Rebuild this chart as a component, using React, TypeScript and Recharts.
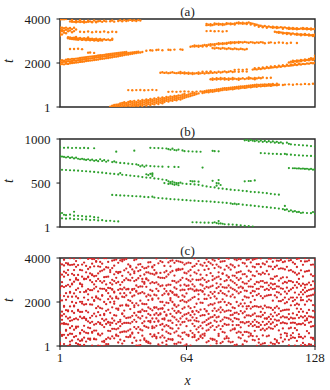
import React from 'react';
import { ScatterChart, Scatter, XAxis, YAxis, ReferenceArea } from 'recharts';

// ---------- ticks ----------
const X_TICKS = [1, 64, 128];
const T_TICKS_A = [1, 2000, 4000];
const T_TICKS_B = [1, 500, 1000];
const T_TICKS_C = [1, 2000, 4000];

// ---------- panel (a): rows are [site x, ...times t] ----------
const aTop: number[][] = [
  [1,3980],[2,3990],[3,3985],[4,3995],[6,3890],[7,3960,3870],[8,3870],[9,3910,3850],[10,3880],[11,3940,3860],[12,3870],[13,3900,3840],[14,3860],[15,3920,3870],[16,3890],[17,3870,3850],[18,3930],[19,3880,3850],[20,3900],[21,3910],[22,3870],[23,3920],[24,3890],[26,3900],[27,3930],[28,3880],[30,3910],[31,3940],[32,3900],[33,3950],[34,3910],[35,3930],[36,3960],[37,3920],[38,3940],[39,3910],[40,3950],[41,3930],
];
const aLeft: number[][] = [
  [1,3620,3520,3420,3330,3250],[2,3600,3500,3440,3300],[3,3580,3470,3380],[4,3610,3510,3350],[5,3560,3440],[6,3590,3480],[7,3540,3400],[8,3600,3450],[9,3520],[11,3420],[13,3410],[15,3430],[17,3400],[19,3420],[21,3410],[23,3430],[25,3400],[27,3420],[29,3410],
];
const aUpper: number[][] = [
  [5,3170,3120],[6,3160,3100],[7,3140,3090],[8,3150,3080],[9,3130,3070,3180],[10,3120,3060],[11,3140,3080],[12,3110,3050],[13,3130,3070],[14,3100,3040],[15,3120,3060,3160],[16,3090,3030],[17,3110,3050],[18,3080,3020],[19,3100,3040],[20,3070,3010],[21,3090,3030],[22,3060,3020],[23,3080],[24,3050],[25,3070],[26,3040],[27,3060,3100],
];
const aSparse: number[][] = [
  [6,2640],[8,2640],[10,2650],[12,2630],[15,2470],[16,2480],[18,2460],[44,2560],[46,2580],[47,2570],[49,2590],[50,2600],[52,2580],[55,2600],[56,2590],[58,2610],[61,2620],[62,2600],
  [35,770],[37,760],[39,770],[41,775],[43,760],[45,770],[47,780],[49,770],[55,690],[57,700],[59,690],[61,700],[63,710],[65,700],[67,690],[69,700],[71,710],
  [74,3450],[76,3460],[78,3440],[80,3450],[82,3430],[84,3450],[88,1690],[90,1700],[92,1690],[94,1710],
];
const aMain: number[][] = [
  [1,1930,2020,2110],[2,1950,2040,2130],[3,1940,2060,2100],[4,1970,2050,2150],[5,1960,2080,2170],[6,1990,2070,2160],[7,2000,2090,2190],[8,2010,2110,2180],[9,2020,2100,2200],[10,2030,2130,2210],
  [11,2050,2140,2230],[12,2060,2150,2240],[13,2070,2170,2250],[14,2090,2180,2260],[15,2100,2190,2280],[16,2110,2200,2290],[17,2120,2220,2300],[18,2140,2230,2310],[19,2150,2250,2320],[20,2160,2260,2340],
  [21,2180,2270,2350],[22,2190,2280,2360],[23,2200,2300,2370],[24,2220,2310,2390],[25,2230,2320,2400],[26,2250,2340,2410],[27,2260,2350,2420],[28,2280,2360,2430],[29,2290,2380,2450],[30,2310,2390,2460],
  [31,2330,2400,2470],[32,2340,2420,2480],[33,2360,2430,2490],[34,2380,2440,2500],[35,2390,2460],[36,2410,2470],[37,2420,2480],[38,2440,2490],[39,2450,2500],[40,2470,2510],[41,2480],[42,2500],
];
const aBottom: number[][] = [
  [26,20],[27,30,60],[28,40,90],[29,30,100],[30,50,120],[31,20,90,160],[32,40,120,190],[33,60,150,220],[34,30,100,180],[35,70,140,230],
  [36,20,110,200,260],[37,60,150,240],[38,30,100,190,280],[39,70,140,230],[40,40,120,210,300],[41,90,170,260],[42,50,140,230,320],[43,110,200,290],[44,70,170,260,340],[45,130,220,310],
  [46,90,190,280,370],[47,150,250,330],[48,120,210,300,390],[49,180,270,360],[50,140,240,330,420],[51,200,290,380],[52,170,260,350,440],[53,230,310,400],[54,280,370,460],[55,250,340,430],
  [56,300,390,480],[57,280,370,460],[58,330,420,500],[59,310,400,490],[60,360,440,530],[61,340,430,520],[62,390,470,560],[63,420,500,590],[64,450,540],[65,480,570],
  [66,500,600],[67,530,620],[68,560,640],[69,590],[70,620],
];
const aLow: number[][] = [
  [72,640,700],[73,660,720],[74,680,740],[75,670,750],[76,700,760],[77,690,770],[78,720,780],[79,740,800],[80,730,810],[81,760,820],[82,770,840],[83,790,850],[84,780,860],[85,800,870],
  [86,820,880],[87,810,890],[88,830,900],[89,850,910],[90,840,920],[91,860,930],[92,880,940],[93,870,950],[94,890,960],[95,910,970],[96,900,980],[97,920,990],[98,930,1000],[99,920,1010],
  [100,950,1000],[101,940,1020],[102,960,1010],[103,950,1030],[104,970,1020],[105,980,1040],[106,960,1030],[107,990,1050],[108,1000],[109,990,1060],[110,1010],[112,1000],[113,1020],[115,1030],
  [117,1010],[119,1040],[121,1030],[123,1050],[125,1040],[127,1060],
];
const aBand1560: number[][] = [
  [51,1560],[52,1580],[53,1550],[54,1570],[55,1540],[56,1560],[57,1580],[58,1550],[59,1540],[60,1560],[61,1530,1590],[62,1550],[63,1570,1520],[64,1540],[65,1560,1510],[66,1530],[67,1550,1500],
  [68,1520],[69,1540],[70,1510,1570],[71,1530],[72,1550,1600],[73,1520],[74,1560,1610],[75,1540],[76,1570,1620],[77,1550],[78,1580],[79,1560],[80,1600],[81,1570],[82,1590],[83,1620],[84,1580],
  [85,1600],[86,1630],[87,1590],[88,1610],[90,1600],[92,1620],[94,1610],
];
const aBand1280: number[][] = [
  [76,1260],[77,1240,1300],[78,1270],[79,1250,1310],[80,1280],[81,1260,1320],[82,1290],[83,1250,1310],[84,1270],[85,1300,1240],[86,1280],[87,1260,1320],[88,1290],[89,1270],[90,1300,1240],
  [91,1280],[92,1310],[93,1270],[94,1300],[95,1280,1340],[96,1310],[97,1290],[98,1320,1260],[99,1300],[100,1330],[101,1310],[102,1340],[104,1320],[106,1330],
];
const aRise: number[][] = [
  [97,1700],[98,1720,1760],[99,1710],[100,1740,1780],[101,1730],[102,1760,1800],[103,1750],[104,1780,1820],[105,1770],[106,1790,1840],[107,1800],[108,1820,1860],[109,1810],[110,1840,1880],
  [111,1830],[112,1860,1900],[113,1850],[114,1880,1920],[115,1870,2020],[116,1890,1940,2060],[117,1900,2040,2100],[118,1920,1960,2080],[119,1910,2060,2120],[120,1940,1980,2100],[121,1930,2140,2080],
  [122,1960,2120],[123,1950,2160,2100],[124,1980,2140],[125,1970,2180,2120],[126,2000,2160,2220],[127,1990,2200,2140],[128,2010,2240,2180,2330],
];
const aBand2900: number[][] = [
  [66,2740],[67,2760],[68,2750,2800],[69,2770],[70,2790,2740],[71,2780],[72,2800,2750],[73,2820],[74,2810,2760],[75,2830],[76,2850,2790],[77,2840,2680],[78,2860,2800,2660],[79,2870,2690],
  [80,2850,2900,2670],[81,2880,2650],[82,2900,2860,2680],[83,2890,2660],[84,2910,2870,2640],[85,2920,2670],[86,2900,2950,2650],[87,2930,2630],[88,2950,2910,2660],[89,2940,2640],[90,2960,2920,2620],
  [91,2950,2650],[92,2930,2630],[93,2960,2610],[94,2940,2640],[95,2920],[96,2950],[97,2930],[98,2910],[99,2940],[100,2920],[101,2950],[102,2930],[103,2900],[105,2920],[106,2940],[108,2910],
  [110,2930],[112,2920],[114,2900],[116,2920],[119,2910],
];
const aTopRight: number[][] = [
  [74,3720,3780],[75,3740],[76,3760,3710],[77,3730],[78,3750,3800],[79,3770],[80,3740,3790],[81,3760],[82,3780,3730],[83,3750],[84,3770,3810],[85,3790],[86,3760,3800],[87,3780],[88,3800,3750],
  [89,3820],[90,3790,3840],[91,3810],[92,3780,3830],[93,3800],[94,3820,3770],[95,3840],[96,3810,3750],[97,3790],[98,3760,3700],[99,3740],[100,3710,3650],[101,3690],[102,3660,3620],[103,3680],
  [104,3640,3600],[105,3660],[106,3630],[107,3650,3600],[108,3620,3420],[109,3640,3590,3400],[110,3610,3410,3370],[111,3630,3390],[112,3600,3560,3380,3340],[113,3620,3360],[114,3580,3370,3320],
  [115,3600,3550,3350],[116,3570,3330,3290],[117,3590,3540,3340],[118,3560,3310],[119,3580,3530,3330,3280],[120,3550,3300],[121,3570,3310,3260],[122,3540,3590,3290],[123,3560,3270,3320],
  [124,3530,3580,3280],[125,3550,3300,3250],[126,3570,3520,3260],[127,3540,3280,3230],[128,3560,3250,3300],
];

// ---------- panel (b): rows are [site x, ...times t] ----------
const bTop: number[][] = [
  [1,905],[3,900],[5,902],[7,898],[9,900],[11,897],[13,899],[15,896],[18,895],
  [29,856],[38,867],[46,900],[48,898],[50,897],[52,895],[54,892],[55,885],[56,878],[57,890],[58,875],[59,872],[60,880],[62,870],[63,862],[65,860],[67,858],[69,856],[71,855],[77,866],[78,862],[80,860],
];
const bLine1: number[][] = [
  [1,805],[2,800],[3,796],[4,790],[5,798],[6,785],[7,792],[8,780],[9,788],[10,776],[11,770],[12,775],[13,768],[14,762],[15,770],[16,758],[17,765],[18,752],[19,760],[20,748],[21,770],[22,750],
  [23,760],[24,742],[25,755],[27,738],[28,745],[29,735],[31,728],[33,725],[35,720],[37,715],[39,712],[40,705],[41,690],[42,700],[43,685],[44,698],[46,693],[48,690],[50,688],[52,686],[55,684],
  [58,683],[60,682],[72,676],[31,613],[45,590],[47,610,600],
];
const bLine2: number[][] = [
  [2,650],[4,648],[6,645],[8,643],[10,640],[12,637],[14,634],[16,630],[18,626],[20,622],[22,618],[24,612],[26,608],[28,603],[30,598],[32,594],[34,590],[36,585],[38,580],[40,575],[42,568],
  [44,562,600],[46,560,605],[47,580],[48,552],[50,548],[52,540],[53,500],[54,534],[55,520,490],[56,510,495],[57,515,488],[58,505,480],[59,500,485],[60,498,475],[61,505],[62,495],[64,490],[66,488,523],
  [67,518],[68,484,520],[70,480,515],[72,470],[74,462],[76,455],[77,525],[78,450],[79,500,470],[80,440,534,496],[81,478],[82,436],[84,430],[86,425],[88,420],[90,418],[92,412],[93,520],[94,408],
  [95,523],[96,400,523],[98,398,530],[100,395],[102,390],[104,385],[106,378],[108,372],[110,368],
];
const bLine3: number[][] = [
  [27,365],[29,362],[31,360],[33,358],[35,356],[37,352],[39,350],[41,348],[43,342],[45,340],[47,345],[48,336],[50,330],[52,326],[54,322],[56,318],[58,315],[60,312],[62,308],[64,305],[66,302],
  [68,300],[70,296],[72,294],[74,292],[76,290],[78,286],[80,282],[82,278],[84,274],[86,270],[87,262],[88,266],[89,258],[90,262],[92,255],[94,250],[96,246],[98,240],[100,236],[102,230],[104,226],
  [106,220],[108,216],[110,210],[112,205],[113,195,240],[114,200],[115,180],[116,190],[117,175],[118,182],[119,170],[120,172],[121,160],[122,165],[124,160],[126,158],[127,170],[128,150],
];
const bBottom: number[][] = [
  [1,150],[2,160,100],[3,140],[4,135,95],[6,142,98],[8,130,174,90],[10,128,92],[12,125,85],[14,118,88],[16,122,80],[18,112,82],[20,108,76],[22,78],[24,70],[26,72],[28,66],[30,64],
  [67,55],[69,54],[71,52],[73,50],[75,50],[77,48],[78,55],[79,45],[80,40,68],[81,42],[82,38],[83,32],[85,30],[87,28],[89,25],[91,20],[93,15],[95,10],[97,5],
];
const bRight: number[][] = [
  [93,985],[94,990],[95,978],[96,988],[97,980],[98,975],[99,985],[100,970],[101,982,840],[102,968],[103,978,838],[104,965],[105,975,835],[106,962],[107,972,832],[108,958],[109,968,830],
  [110,955],[111,962,828],[112,950],[113,830],[114,958,825],[115,945,670],[116,940,822],[117,668],[118,935,818,668],[119,665],[120,932,815,666],[121,662],[122,928,812,664],[123,660],
  [124,925,810,662],[125,655],[126,920,808,660],[127,652],[128,915,805,655],
];

// ---------- panel (c): index = site x - 1, values = times t ----------
const cCols: number[][] = [
  [70,140,610,980,1320,1410,2050,2620,2680,3140,3560,3760,2300,3300],
  [460,500,1020,1190,1560,2070,2720,3240,3710,1380,2900],
  [90,510,1000,1040,1780,1820,2270,2680,3380,3660,3920,1450,3150],
  [370,690,730,1340,1630,2100,2730,3320,3770,1000,2400],
  [0,500,980,1580,1620,2240,2780,3230,3700,3760,1250,3450],
  [60,200,560,1140,1300,1800,2420,2460,3010,3680,3990,820,2700],
  [250,900,1170,1580,2240,2800,2840,3280,3690,550,2000],
  [410,740,1220,1800,1830,2390,2920,3220,3710,3980,1500,3450],
  [130,820,880,1250,1960,2550,3020,3080,3600,3860,450,2250],
  [80,300,880,1600,1640,2170,2620,3230,3680,1200,3000],
  [50,560,600,1330,1550,2010,2820,2850,3460,3990,230,2450],
  [250,300,720,1260,1930,2010,2710,2790,3440,3700,1550,3150],
  [50,380,920,1270,1310,1880,2450,3030,3060,3790,650,2200],
  [200,600,1180,1230,1900,2470,2520,3050,3640,1600,3350],
  [330,840,1120,1530,2100,2590,3120,3150,3500,3960,580,2350],
  [280,340,810,1280,1890,2540,2990,3580,3990,1050,3300],
  [20,600,640,1370,1880,2200,2540,3220,3260,3740,3950,1100,2900],
  [310,330,970,1470,2050,2080,2610,3170,3620,3950,700,2800],
  [300,700,1010,1720,2200,2260,2690,3190,3830,3860,1350,2950],
  [20,520,560,1090,1540,2160,2480,3050,3620,3980,1800,3300],
  [0,480,1000,1050,1730,2110,2610,2950,3390,3820,1400,3600],
  [200,560,1230,1700,2280,2310,2880,3430,3740,950,2600],
  [10,180,230,860,1410,1460,2000,2950,3130,3480,3990,1150,2600],
  [90,310,1000,1210,1900,2510,2540,3140,3580,3990,1600,2800],
  [80,690,1060,1100,1650,2130,2640,3150,3560,3820,380,2400],
  [330,950,1060,1510,1990,2630,2870,3360,3450,680,2250],
  [440,780,1250,1760,2160,2560,2590,3010,3540,3880,1050,2800],
  [350,780,1400,1920,2020,2430,2470,3260,3650,3900,1150,2950],
  [470,520,1010,1380,1700,2180,2240,2860,3370,3930,760,3100],
  [160,450,1090,1640,1700,2150,2910,3310,3360,3780,800,2550],
  [290,620,1110,1190,1830,2390,2780,3360,3370,3890,900,2600],
  [110,640,1010,1450,1480,2240,2570,3190,3850,3920,1850,2900],
  [230,660,1050,1610,2220,2650,2990,3440,3920,1350,2400],
  [420,650,1270,1840,1880,2570,3070,3520,3950,1050,2300],
  [400,700,1290,1830,2090,2580,2600,3000,3710,1050,3350],
  [420,480,760,1030,1680,2050,2420,2980,3590,3640,1300,3250],
  [140,560,610,1370,1960,2550,2590,3100,3480,1100,2250],
  [380,860,1190,1770,1850,2300,2950,3310,3390,3900,1500,2600],
  [20,240,780,1390,1940,2470,2510,3000,3560,3940,1100,2750],
  [20,600,860,1300,1850,2380,2680,3080,3700,1550,3400],
  [40,260,750,1540,1570,2060,2710,3190,3450,3720,1250,2400],
  [470,710,1040,1360,1920,2450,2930,3050,3600,3990,1650,2700],
  [280,350,910,1120,1590,2390,2830,2900,3530,1900,3250],
  [190,230,870,1290,1590,2250,2690,3040,3070,3550,1900,3350],
  [140,190,830,1130,1460,2090,2330,2980,3340,3610,1750,3800],
  [120,540,1080,1140,1690,2290,2850,3290,3810,1400,2550],
  [430,810,890,1620,2100,2150,2900,3280,3570,3610,1250,2500],
  [460,520,840,1420,1740,1760,2330,2860,3240,3680,1100,3450],
  [350,410,920,1490,1750,2300,2890,3300,3330,3980,1250,2600],
  [70,590,1110,1150,1670,2160,2800,3130,3760,1400,2500],
  [10,390,960,1440,1480,2010,2720,3320,3860,1700,3100],
  [150,470,740,1230,1690,1720,2310,2750,3100,3810,1000,2000],
  [380,890,1200,1260,1850,2380,2600,3090,3640,1550,3350],
  [60,230,650,1380,1420,1970,2490,3150,3410,3990,950,2750],
  [320,590,1150,1640,2340,2380,2790,3250,3800,900,1950],
  [300,820,1150,1460,2080,2170,2780,3350,3620,3870,550,2500],
  [270,310,790,1350,2000,2420,2450,2960,3410,3890,1050,1700],
  [100,610,1300,1850,1890,2330,2660,3200,3780,1600,2950],
  [100,670,950,1500,1780,2300,2340,2880,3430,3470,3870,1200,2600],
  [170,470,1120,1560,1590,2230,2930,3460,3500,3850,800,1850],
  [150,430,970,1510,2050,2530,3000,3470,3820,1250,2750],
  [310,600,1080,1690,2090,2560,3100,3500,3790,1350,2300],
  [20,620,1100,1420,2020,2240,2790,3330,3700,1750,2550],
  [70,520,1240,1450,1990,2390,2730,3300,3760,900,3050],
  [450,500,1150,1500,2060,2580,2990,3390,3790,1800,2750],
  [20,690,1170,1720,2110,2610,2940,3460,3770,1400,3200],
  [400,590,1010,1550,1580,2190,2570,3030,3600,1300,2800],
  [410,500,1170,1440,1770,2230,2710,3350,3640,3980,900,2500],
  [260,760,1130,1270,1920,2520,2560,3290,3730,1600,3000],
  [320,630,1110,1540,2130,2520,3000,3440,3860,850,2350],
  [420,470,920,1370,1970,2540,3020,3240,3700,1650,2800],
  [360,530,1060,1400,1960,2470,2490,3090,3650,800,2750],
  [470,560,1100,1680,2140,2610,3010,3460,3780,1400,2350],
  [170,700,1180,1570,1600,2140,2690,3220,3640,3940,950,2900],
  [220,740,1240,1460,1850,2300,2960,3500,3820,1000,2650],
  [0,340,850,1300,1900,2190,2700,3310,3760,1050,2450],
  [280,320,920,1320,1880,2370,2740,3180,3690,3930,1600,3000],
  [290,730,1150,1710,1940,2460,3060,3540,3880,1400,2250],
  [120,220,860,1100,1590,2150,2630,3120,3700,1300,2850],
  [460,550,930,1330,1980,2400,2690,3150,3610,3960,1650,3350],
  [130,770,1130,1530,2010,2500,3040,3560,3830,1750,2800],
  [190,640,1200,1640,2120,2680,3280,3300,3850,900,2400],
  [330,610,1000,1560,2000,2360,2950,3470,3860,1300,2650],
  [360,440,960,1280,1860,2290,2990,3210,3640,3990,1600,2650],
  [210,350,970,1620,1960,2480,3110,3140,3560,3970,1250,2750],
  [170,700,1200,1600,1900,2250,2990,3470,3710,1400,2650],
  [190,760,1120,1420,1750,2340,2930,3200,3660,950,2600],
  [40,760,800,1270,1720,2210,2860,3190,3580,3940,1500,2550],
  [60,600,1230,1520,2000,2480,2780,3330,3900,950,3100],
  [390,650,1210,1450,1830,2390,3000,3360,3650,3950,950,2650],
  [350,620,1080,1590,1920,2450,3070,3390,3940,850,2700],
  [70,500,1080,1490,2100,2620,2650,3260,3780,1800,2900],
  [240,640,1030,1560,1940,2520,2840,3270,3750,1300,2250],
  [200,640,1080,1390,1690,2210,2840,3160,3620,3920,1800,2500],
  [430,610,920,1390,1810,2200,2950,3420,3940,1100,2700],
  [480,560,1000,1360,1990,2410,3030,3370,3800,1700,2700],
  [280,450,900,1420,1780,2270,2690,3210,3610,3920,1100,2500],
  [260,690,1190,1480,1810,2480,2810,3180,3580,3950,950,2100],
  [0,440,870,1350,1800,2310,2910,3390,3720,3980,1100,2600],
  [150,310,870,1350,1770,2370,2890,3280,3720,1050,2600],
  [60,730,960,1330,1790,2270,2700,3250,3590,3980,1550,2950],
  [110,480,790,1410,1700,2170,2690,3330,3750,1100,2950],
  [130,710,1250,1510,1830,2260,2870,3280,3710,950,2550],
  [440,780,1240,1260,1760,2290,2880,3410,3830,1000,2600],
  [0,470,850,1320,1760,2310,2760,3260,3620,3970,1100,2550],
  [150,800,1220,1440,1730,2320,2650,3060,3610,3970,1000,2850],
  [100,780,1070,1640,2060,2590,3050,3490,3830,1350,2800],
  [90,310,890,1520,1730,2300,2820,3150,3590,3990,1200,2600],
  [180,250,960,1390,1800,2210,2710,3180,3650,3880,1150,2450],
  [130,710,1160,1710,2040,2430,2970,3510,3870,1450,2700],
  [380,520,1040,1590,2040,2620,3070,3530,3910,1300,2350],
  [200,800,1070,1620,2100,2600,3120,3520,3810,1350,2850],
  [300,590,1040,1640,1940,2470,2910,3480,3840,1300,2200],
  [450,560,1020,1650,1990,2380,2880,3120,3600,3990,1300,2650],
  [30,280,800,1220,1650,2120,2960,3430,3880,1450,2500],
  [350,480,830,1290,1850,2570,2950,3450,3900,1050,2200],
  [390,590,1060,1480,2040,2640,2900,3380,3800,1250,2200],
  [20,370,810,1260,1860,2430,2760,3330,3730,1050,2100],
  [230,720,980,1410,1920,2200,2650,3240,3590,3960,1700,2900],
  [410,530,1000,1280,1880,2340,2820,3300,3980,1550,3050],
  [30,410,990,1680,2080,2200,2740,3440,3860,1350,2450],
  [140,350,1030,1560,2090,2550,2830,3160,3690,1300,2350],
  [50,430,960,1360,1880,2440,2780,3380,3840,3990,1150,2650],
  [10,680,1180,1500,2030,2500,2800,3400,3850,1250,2250],
  [80,580,1060,1640,2110,2280,2880,3420,3890,1350,2550],
  [60,380,880,1330,2060,2570,2770,3250,3690,1100,2300],
  [320,370,900,1300,1860,2330,2940,3180,3700,1600,2600],
  [40,260,940,1300,1820,2420,2830,3200,3590,3920,1550,2650],
];

// ---------- helpers ----------
type Pt = { x: number; t: number };
const fromRows = (groups: number[][][]): Pt[] =>
  groups.flatMap((rows) => rows.flatMap(([x, ...ts]) => ts.map((t) => ({ x, t }))));
const fromCols = (cols: number[][]): Pt[] =>
  cols.flatMap((ts, i) => ts.map((t) => ({ x: i + 1, t })));

const dataA = fromRows([aTop, aLeft, aUpper, aSparse, aMain, aBottom, aLow, aBand1560, aBand1280, aRise, aBand2900, aTopRight]);
const dataB = fromRows([bTop, bLine1, bLine2, bLine3, bBottom, bRight]);
const dataC = fromCols(cCols);

const FONT = '"Liberation Serif", "DejaVu Serif", serif';
const INK = '#1a1a1a';

const makeDot = (color: string, r: number) => (props: any) =>
  <circle cx={props.cx} cy={props.cy} r={r} fill={color} />;

type PanelProps = {
  data: Pt[]; color: string; yMax: number; yTicks: number[]; title: string;
  top: number; height: number; showX: boolean; r: number;
};

function Panel({ data, color, yMax, yTicks, title, top, height, showX, r }: PanelProps) {
  return (
    <div style={{ position: 'absolute', left: 0, top }}>
      <ScatterChart width={330} height={height} margin={{ top: 19, right: 15, bottom: showX ? 0 : 8, left: 0 }}>
        <XAxis
          type="number" dataKey="x" domain={[1, 128]} ticks={X_TICKS} hide={!showX}
          allowDataOverflow interval={0} height={44} axisLine={false}
          tickSize={4} tickMargin={3} tickLine={{ stroke: INK, strokeWidth: 1 }}
          tick={{ fontSize: 13, fill: INK, fontFamily: FONT }}
          label={{ value: 'x', position: 'insideBottom', offset: 5, style: { fontStyle: 'italic', fontFamily: FONT, fontSize: 14, fill: INK } }}
        />
        <YAxis
          type="number" dataKey="t" domain={[1, yMax]} ticks={yTicks} allowDataOverflow interval={0}
          width={60} axisLine={false} tickSize={3.5} tickMargin={6}
          tickLine={{ stroke: INK, strokeWidth: 1 }}
          tick={{ fontSize: 13, fill: INK, fontFamily: FONT }}
          label={{ value: 't', angle: -90, position: 'insideLeft', offset: 8, style: { fontStyle: 'italic', fontFamily: FONT, fontSize: 14, fill: INK } }}
        />
        <Scatter data={data} isAnimationActive={false} shape={makeDot(color, r)} />
        <ReferenceArea
          x1={1} x2={128} y1={1} y2={yMax} ifOverflow="visible"
          fill="none" fillOpacity={0} stroke="#262626" strokeWidth={1.4}
          label={{ value: title, position: 'top', offset: 3, style: { fontFamily: FONT, fontSize: 13, fill: INK } }}
        />
      </ScatterChart>
    </div>
  );
}

export default function App() {
  return (
    <div style={{ position: 'absolute', left: 0, top: 0, width: 330, height: 390, background: '#fff' }}>
      <Panel data={dataA} color="#ff7f0e" yMax={4000} yTicks={T_TICKS_A} title="(a)" top={0} height={115} showX={false} r={1.2} />
      <Panel data={dataB} color="#2ca02c" yMax={1000} yTicks={T_TICKS_B} title="(b)" top={120} height={115} showX={false} r={1.1} />
      <Panel data={dataC} color="#d62728" yMax={4000} yTicks={T_TICKS_C} title="(c)" top={239} height={151} showX={true} r={1.15} />
    </div>
  );
}
